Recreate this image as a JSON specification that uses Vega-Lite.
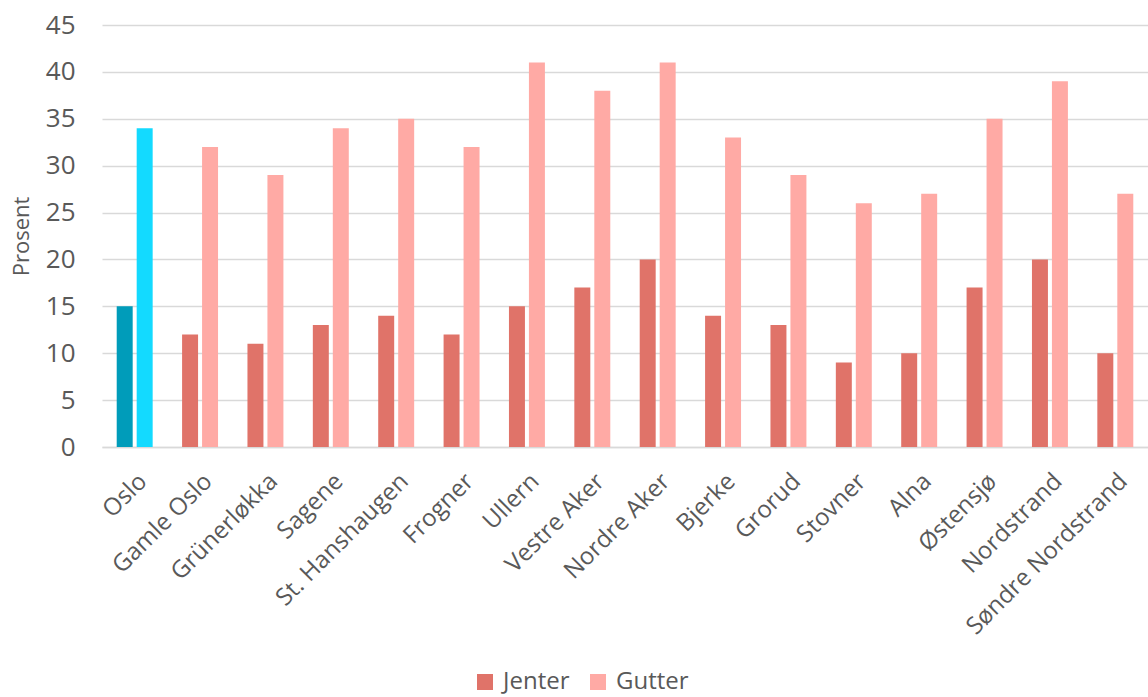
{
  "$schema": "https://vega.github.io/schema/vega-lite/v6.json",
  "autosize": "none",
  "width": 1046,
  "height": 422,
  "padding": {"left": 102, "top": 25, "right": 0, "bottom": 250},
  "background": "white",
  "config": {
    "font": "Open Sans",
    "view": {"stroke": null}
  },
  "data": {
    "values": [
      {"bydel": "Oslo", "kjonn": "Jenter", "gruppe": "Oslo Jenter", "prosent": 15},
      {"bydel": "Oslo", "kjonn": "Gutter", "gruppe": "Oslo Gutter", "prosent": 34},
      {"bydel": "Gamle Oslo", "kjonn": "Jenter", "gruppe": "Jenter", "prosent": 12},
      {"bydel": "Gamle Oslo", "kjonn": "Gutter", "gruppe": "Gutter", "prosent": 32},
      {"bydel": "Grünerløkka", "kjonn": "Jenter", "gruppe": "Jenter", "prosent": 11},
      {"bydel": "Grünerløkka", "kjonn": "Gutter", "gruppe": "Gutter", "prosent": 29},
      {"bydel": "Sagene", "kjonn": "Jenter", "gruppe": "Jenter", "prosent": 13},
      {"bydel": "Sagene", "kjonn": "Gutter", "gruppe": "Gutter", "prosent": 34},
      {"bydel": "St. Hanshaugen", "kjonn": "Jenter", "gruppe": "Jenter", "prosent": 14},
      {"bydel": "St. Hanshaugen", "kjonn": "Gutter", "gruppe": "Gutter", "prosent": 35},
      {"bydel": "Frogner", "kjonn": "Jenter", "gruppe": "Jenter", "prosent": 12},
      {"bydel": "Frogner", "kjonn": "Gutter", "gruppe": "Gutter", "prosent": 32},
      {"bydel": "Ullern", "kjonn": "Jenter", "gruppe": "Jenter", "prosent": 15},
      {"bydel": "Ullern", "kjonn": "Gutter", "gruppe": "Gutter", "prosent": 41},
      {"bydel": "Vestre Aker", "kjonn": "Jenter", "gruppe": "Jenter", "prosent": 17},
      {"bydel": "Vestre Aker", "kjonn": "Gutter", "gruppe": "Gutter", "prosent": 38},
      {"bydel": "Nordre Aker", "kjonn": "Jenter", "gruppe": "Jenter", "prosent": 20},
      {"bydel": "Nordre Aker", "kjonn": "Gutter", "gruppe": "Gutter", "prosent": 41},
      {"bydel": "Bjerke", "kjonn": "Jenter", "gruppe": "Jenter", "prosent": 14},
      {"bydel": "Bjerke", "kjonn": "Gutter", "gruppe": "Gutter", "prosent": 33},
      {"bydel": "Grorud", "kjonn": "Jenter", "gruppe": "Jenter", "prosent": 13},
      {"bydel": "Grorud", "kjonn": "Gutter", "gruppe": "Gutter", "prosent": 29},
      {"bydel": "Stovner", "kjonn": "Jenter", "gruppe": "Jenter", "prosent": 9},
      {"bydel": "Stovner", "kjonn": "Gutter", "gruppe": "Gutter", "prosent": 26},
      {"bydel": "Alna", "kjonn": "Jenter", "gruppe": "Jenter", "prosent": 10},
      {"bydel": "Alna", "kjonn": "Gutter", "gruppe": "Gutter", "prosent": 27},
      {"bydel": "Østensjø", "kjonn": "Jenter", "gruppe": "Jenter", "prosent": 17},
      {"bydel": "Østensjø", "kjonn": "Gutter", "gruppe": "Gutter", "prosent": 35},
      {"bydel": "Nordstrand", "kjonn": "Jenter", "gruppe": "Jenter", "prosent": 20},
      {"bydel": "Nordstrand", "kjonn": "Gutter", "gruppe": "Gutter", "prosent": 39},
      {"bydel": "Søndre Nordstrand", "kjonn": "Jenter", "gruppe": "Jenter", "prosent": 10},
      {"bydel": "Søndre Nordstrand", "kjonn": "Gutter", "gruppe": "Gutter", "prosent": 27}
    ]
  },
  "mark": {"type": "bar"},
  "encoding": {
    "x": {
      "field": "bydel", "type": "nominal", "sort": null,
      "scale": {"paddingInner": 0.45, "paddingOuter": 0.225},
      "axis": {"title": null, "labelAngle": -45, "labelFontSize": 24, "labelColor": "#595959", "labelLimit": 400, "domainColor": "#d9d9d9", "domainWidth": 1.5, "ticks": false, "labelPadding": 22}
    },
    "xOffset": {"field": "kjonn", "type": "nominal", "sort": ["Jenter", "Gutter"], "scale": {"paddingInner": 0.2}},
    "y": {
      "field": "prosent", "type": "quantitative",
      "scale": {"domain": [0, 45]},
      "axis": {"title": "Prosent", "titleFontSize": 22, "titleFontWeight": "normal", "titleColor": "#595959", "labelFontSize": 26, "labelColor": "#595959", "values": [0, 5, 10, 15, 20, 25, 30, 35, 40, 45], "domain": false, "ticks": false, "gridColor": "#d9d9d9", "gridWidth": 1.5, "labelPadding": 27, "titlePadding": 12}
    },
    "color": {
      "field": "gruppe", "type": "nominal",
      "scale": {"domain": ["Jenter", "Gutter", "Oslo Jenter", "Oslo Gutter"], "range": ["#E07369", "#FFAAA5", "#009CBA", "#13DAFF"]},
      "legend": {"title": null, "values": ["Jenter", "Gutter"], "orient": "none", "direction": "horizontal", "legendX": 371, "legendY": 645, "labelFontSize": 24, "labelColor": "#595959", "symbolType": "square", "symbolSize": 256, "symbolStrokeWidth": 0, "columnPadding": 16, "labelOffset": 6}
    }
  }
}
